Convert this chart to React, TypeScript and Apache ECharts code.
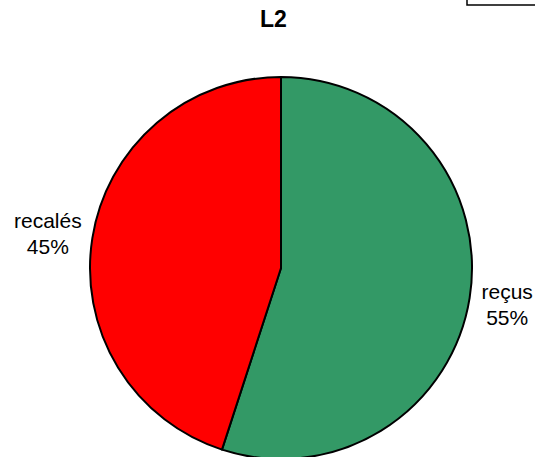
import React, { useEffect, useRef } from "react";
import * as echarts from "echarts";

const title = "L2";
const categories = ["reçus", "recalés"];
const values = [55, 45];
const colors = ["#339966", "#FF0000"];

export default function App() {
  const ref = useRef<HTMLDivElement>(null);
  useEffect(() => {
    if (!ref.current) return;
    const chart = echarts.init(ref.current, undefined, { renderer: "svg" });
    const font = "'Liberation Sans', Arial, sans-serif";
    chart.setOption({
      animation: false,
      backgroundColor: "#ffffff",
      title: {
        text: title,
        left: 260,
        top: 7,
        padding: 0,
        textStyle: { fontFamily: font, fontSize: 23, fontWeight: "bold", color: "#000" },
      },
      graphic: [
        {
          type: "rect",
          shape: { x: 467, y: -6, width: 80, height: 11 },
          style: { fill: "#fff", stroke: "#000", lineWidth: 1.5 },
        },
      ],
      series: [
        {
          type: "pie",
          center: [281, 268],
          radius: 191,
          startAngle: 90,
          clockwise: true,
          bleedMargin: 0,
          avoidLabelOverlap: false,
          itemStyle: { borderColor: "#000", borderWidth: 2 },
          label: {
            show: true,
            position: "outside",
            fontFamily: font,
            fontSize: 21,
            color: "#000",
            overflow: "none",
            distanceToLabelLine: 5,
            formatter: (p: any) => {
              const k = p.dataIndex === 0 ? "r" : "l";
              return `{${k}|${p.name}}\n{${k}|${Math.round(p.percent)}%}`;
            },
            rich: {
              r: { width: 50, align: "center", fontSize: 21, lineHeight: 26, fontFamily: font, color: "#000" },
              l: { width: 68, align: "center", fontSize: 21, lineHeight: 26, fontFamily: font, color: "#000" },
            },
          },
          labelLine: { show: false, length: 0, length2: 6 },
          data: categories.map((c, i) => ({
            name: c,
            value: values[i],
            itemStyle: { color: colors[i] },
            label: i === 0 ? { width: 50, padding: [13, 0, 0, 0] } : { width: 68, padding: [0, 0, 10, 0] },
            labelLine: i === 0 ? { length2: 7.5 } : { length2: 5.5 },
          })),
        },
      ],
    });
    return () => chart.dispose();
  }, []);
  return (
    <div
      ref={ref}
      style={{ position: "fixed", left: 0, top: 0, width: 535, height: 457 }}
    />
  );
}
